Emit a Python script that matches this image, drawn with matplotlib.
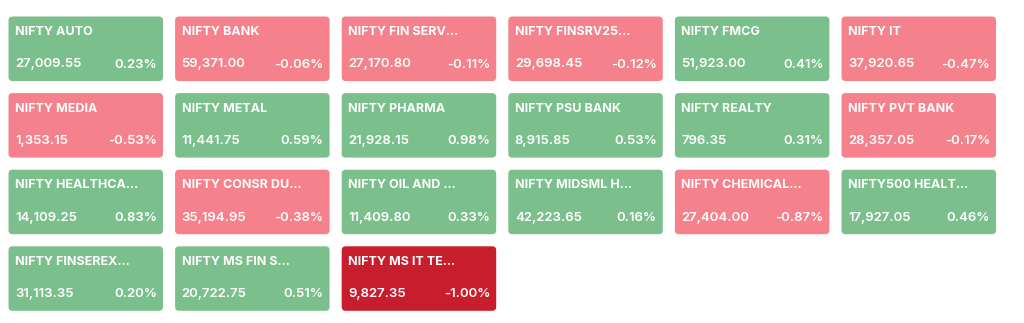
import matplotlib.pyplot as plt
from matplotlib.patches import FancyBboxPatch

# --- index tiles data ---
names = [
    "NIFTY AUTO", "NIFTY BANK", "NIFTY FIN SERV...", "NIFTY FINSRV25...", "NIFTY FMCG", "NIFTY IT",
    "NIFTY MEDIA", "NIFTY METAL", "NIFTY PHARMA", "NIFTY PSU BANK", "NIFTY REALTY", "NIFTY PVT BANK",
    "NIFTY HEALTHCA...", "NIFTY CONSR DU...", "NIFTY OIL AND ...", "NIFTY MIDSML H...", "NIFTY CHEMICAL...", "NIFTY500 HEALT...",
    "NIFTY FINSEREX...", "NIFTY MS FIN S...", "NIFTY MS IT TE...",
]
prices = [
    27009.55, 59371.00, 27170.80, 29698.45, 51923.00, 37920.65,
    1353.15, 11441.75, 21928.15, 8915.85, 796.35, 28357.05,
    14109.25, 35194.95, 11409.80, 42223.65, 27404.00, 17927.05,
    31113.35, 20722.75, 9827.35,
]
changes = [
    0.23, -0.06, -0.11, -0.12, 0.41, -0.47,
    -0.53, 0.59, 0.98, 0.53, 0.31, -0.17,
    0.83, -0.38, 0.33, 0.16, -0.87, 0.46,
    0.20, 0.51, -1.00,
]

GREEN = '#7bc08c'
PINK = '#f4818b'
RED = '#c81d2c'


def tile_color(chg):
    if chg >= 0:
        return GREEN
    if chg <= -1.0:
        return RED
    return PINK


fig = plt.figure(figsize=(10.24, 3.23), dpi=100)
ax = fig.add_axes([0, 0, 1, 1])
ax.set_xlim(0, 1024)
ax.set_ylim(323, 0)
ax.axis('off')

x0, y0 = 8.5, 16.5
col_step, row_step = 166.6, 76.6
w, h = 154.5, 64.5
font = 'Inter'

for i, (name, price, chg) in enumerate(zip(names, prices, changes)):
    r, c = divmod(i, 6)
    x = x0 + c * col_step
    y = y0 + r * row_step
    box = FancyBboxPatch((x, y), w, h, boxstyle='round,pad=0,rounding_size=4',
                         facecolor=tile_color(chg), edgecolor='none')
    ax.add_patch(box)
    ax.text(x + 6.5, y + 15.5, name, color='white', fontsize=9, fontweight='bold',
            family=font, va='center', ha='left')
    ax.text(x + 6.5, y + 48, f"{price:,.2f}", color='white', fontsize=9.5,
            fontweight='semibold', family=font, va='center', ha='left')
    ax.text(x + w - 6, y + 48, f"{chg:.2f}%", color='white', fontsize=9.5,
            fontweight='semibold', family=font, va='center', ha='right')

fig.savefig('out.png', dpi=100, facecolor='white')
